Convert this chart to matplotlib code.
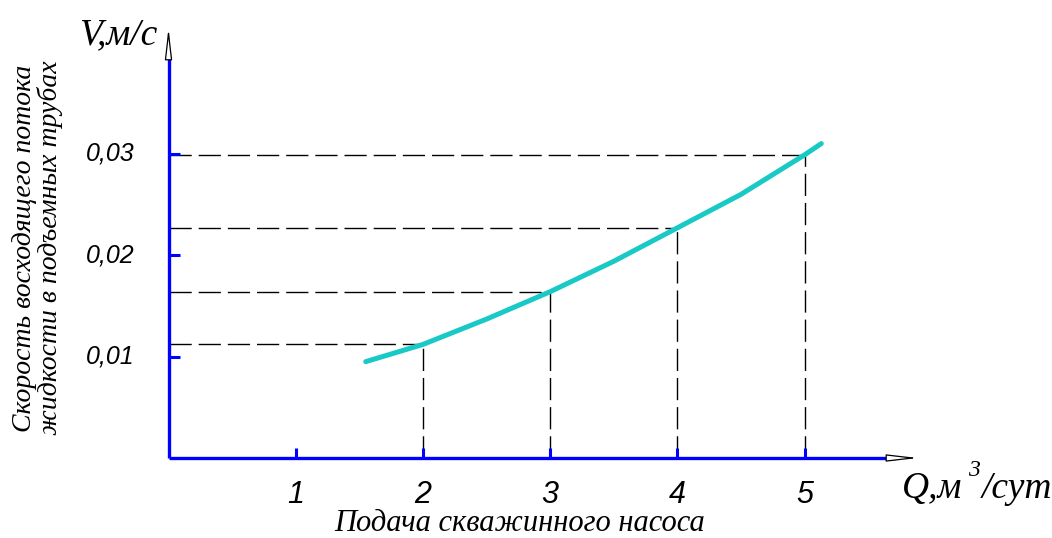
import numpy as np
import matplotlib.pyplot as plt

# data
q = [1.55, 2.0, 2.5, 3.0, 3.5, 4.0, 4.5, 5.0, 5.13]
v = [0.0095, 0.0112, 0.0137, 0.0164, 0.0194, 0.0227, 0.0260, 0.0299, 0.0310]
q_marks = [2, 3, 4, 5]
v_marks = [0.0112, 0.0164, 0.0227, 0.0299]
x_ticks = [1, 2, 3, 4, 5]
y_ticks = [0.01, 0.02, 0.03]
y_tick_labels = ["0,01", "0,02", "0,03"]

W, H = 1052, 538
serif = "Liberation Serif"
sans = "Liberation Sans"

def fx(px):
    return px / W

def fy(py):
    return 1 - py / H

fig = plt.figure(figsize=(W / 100, H / 100), dpi=100)
ax = fig.add_axes([fx(168.5), fy(458), (918 - 168.5) / W, (458 - 30) / H])
ax.set_xlim(0, 5.89)
ax.set_ylim(0, 0.0422)
ax.axis("off")

blue = "#0000ff"
# axes lines
ax.plot([0, 5.72], [0, 0], color=blue, lw=2.4, solid_capstyle="butt", zorder=3, clip_on=False)
ax.plot([0, 0], [0, 0.0398], color=blue, lw=2.4, solid_capstyle="butt", zorder=3, clip_on=False)
arrow = dict(arrowstyle="-|>,head_length=1.9,head_width=0.22",
             fc="white", ec="black", lw=0.9, shrinkA=0, shrinkB=0)
ax.annotate("", xy=(5.89, 0), xytext=(5.70, 0), arrowprops=arrow, zorder=4,
            annotation_clip=False)
ax.annotate("", xy=(0, 0.0424), xytext=(0, 0.0394), arrowprops=arrow, zorder=4,
            annotation_clip=False)

# ticks (inward)
for t in x_ticks:
    ax.plot([t, t], [0, 0.0010], color=blue, lw=2.2, solid_capstyle="butt", zorder=3)
    ax.text(t, -0.0036, str(t), ha="center", va="center", fontsize=22,
            fontstyle="italic", family=sans)
for t, lab in zip(y_ticks, y_tick_labels):
    ax.plot([0, 0.09], [t, t], color=blue, lw=2.2, solid_capstyle="butt", zorder=3,
            clip_on=False)
    ax.text(-0.27, t, lab, ha="right", va="center", fontsize=18,
            fontstyle="italic", family=sans)

# dashed guide lines
for qq, vv in zip(q_marks, v_marks):
    ax.plot([0, qq], [vv, vv], color="black", lw=1.0, ls=(0, (16, 5)), zorder=2)
    ax.plot([qq, qq], [0, vv], color="black", lw=1.0, ls=(0, (16, 5)), zorder=2)

# curve
ax.plot(q, v, color="#19c9c6", lw=3.6, solid_capstyle="round", zorder=5)

# labels
fig.text(fx(157), fy(44), "V,м/с", ha="right", va="baseline", fontsize=27,
         fontstyle="italic", family=serif)

renderer = fig.canvas.get_renderer()
t1 = fig.text(fx(902), fy(498), "Q,м", ha="left", va="baseline", fontsize=27,
              fontstyle="italic", family=serif)
x1 = t1.get_window_extent(renderer).x1
t2 = fig.text((x1 + 6) / W, fy(476), "3", ha="left", va="baseline", fontsize=17,
              fontstyle="italic", family=serif)
x2 = t2.get_window_extent(renderer).x1
fig.text((x2 + 1) / W, fy(498), "/сут", ha="left", va="baseline", fontsize=27,
         fontstyle="italic", family=serif)

fig.text(fx(520), fy(531), "Подача скважинного насоса", ha="center", va="baseline",
         fontsize=22, fontstyle="italic", family=serif)
fig.text(fx(38), fy(248), "Скорость восходящего потока\nжидкости в подъемных трубах",
         ha="center", va="center", rotation=90, fontsize=20, fontstyle="italic",
         family=serif, linespacing=1.0)

fig.savefig("out.png", dpi=100)
